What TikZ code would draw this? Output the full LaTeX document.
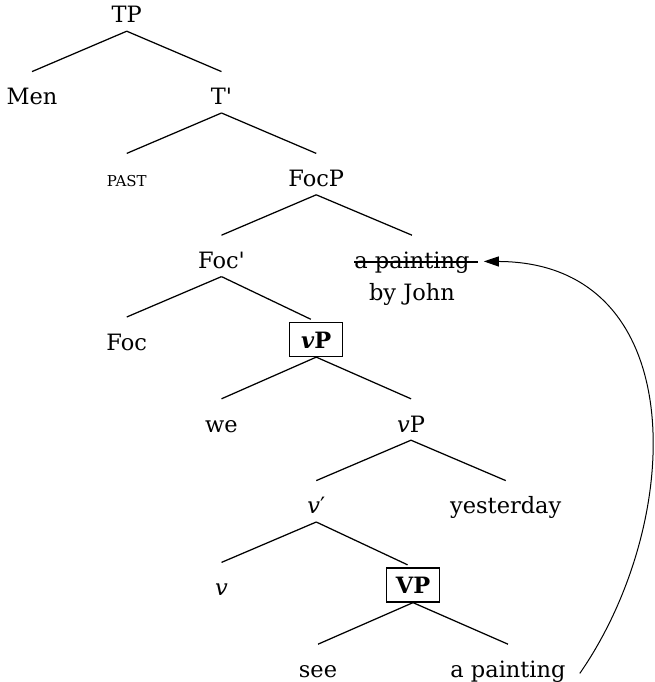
\documentclass[tikz,border=0pt]{standalone}
\usepackage{fontspec}
\setmainfont{DejaVu Serif}
\usetikzlibrary{arrows.meta,calc}
\begin{document}
\begin{tikzpicture}[x=1pt,y=-1pt,
  lbl/.style={anchor=base, inner sep=0pt, text height=33pt, text depth=8pt},
  boxed/.style={anchor=base, draw, line width=1.25pt, inner xsep=4pt,
    inner ysep=8.5pt, text height=17pt, text depth=0pt, minimum width=53pt},
  branch/.style={line width=1.25pt},
  tobox/.style={branch, shorten >=6pt},
  move/.style={line width=1pt, -{Triangle[length=15pt,width=10pt]}},
  font=\fontsize{22.5}{27}\selectfont]
\useasboundingbox (0,0) rectangle (655,682);

% nodes, level by level
\node[lbl] (TP)    at (126.75,23)    {TP};
\node[lbl] (Men)   at (32,104.8)     {Men};
\node[lbl] (Tbar)  at (221.5,104.8)  {T\textquotesingle};
\node[lbl] (past)  at (126.75,186.6) {\fontsize{15}{18}\selectfont PAST};
\node[lbl] (FocP)  at (316.25,186.6) {FocP};
\node[lbl] (Focbar) at (221.5,268.4) {Foc\textquotesingle};
\node[lbl] (aps)   at (412,268.4)    {a painting};
\node[anchor=base, inner sep=0pt] (byj) at ([yshift=-32pt]aps.base) {by John};
\node[lbl] (Foc)   at (126.75,350.2) {Foc};
\node[boxed] (vPb) at (316.25,348)   {\textbf{\textit{v}P}};
\node[lbl] (we)    at (221.5,432)    {we};
\node[lbl] (vP)    at (411,432)      {\textit{v}P};
\node[lbl] (vbar)  at (316.25,513.8) {\textit{v}′};
\node[lbl] (yest)  at (505.75,513.8) {yesterday};
\node[lbl] (v)     at (221.5,595.6)  {\textit{v}};
\node[boxed] (VPb) at (413,593.5)    {\textbf{VP}};
\node[lbl] (see)   at (318,677.4)    {see};
\node[lbl] (ap)    at (508,677.4)    {a painting};

% branches
\draw[branch] (TP.south) -- (Men.north);
\draw[branch] (TP.south) -- (Tbar.north);
\draw[branch] (Tbar.south) -- (past.north);
\draw[branch] (Tbar.south) -- (FocP.north);
\draw[branch] (FocP.south) -- (Focbar.north);
\draw[branch] (FocP.south) -- (aps.north);
\draw[branch] (Focbar.south) -- (Foc.north);
\draw[tobox]  (Focbar.south) -- (vPb.north);
\draw[branch] (vPb.south) -- (we.north);
\draw[branch] (vPb.south) -- (vP.north);
\draw[branch] (vP.south) -- (vbar.north);
\draw[branch] (vP.south) -- (yest.north);
\draw[branch] (vbar.south) -- (v.north);
\draw[tobox]  (vbar.south) -- (VPb.north);
\draw[branch] (VPb.south) -- (see.north);
\draw[branch] (VPb.south) -- (ap.north);

% struck-out copy
\draw[line width=1.25pt] ([yshift=6.5pt]aps.base west) -- ([xshift=8pt,yshift=6.5pt]aps.base east);
\coordinate (landing) at ([xshift=14pt,yshift=7pt]aps.base east);
\coordinate (launch) at ([xshift=14pt,yshift=4pt]ap.base east);

% movement arrow
\draw[move] (launch) .. controls +(106,-153) and +(208,1) .. (landing);
\end{tikzpicture}
\end{document}
